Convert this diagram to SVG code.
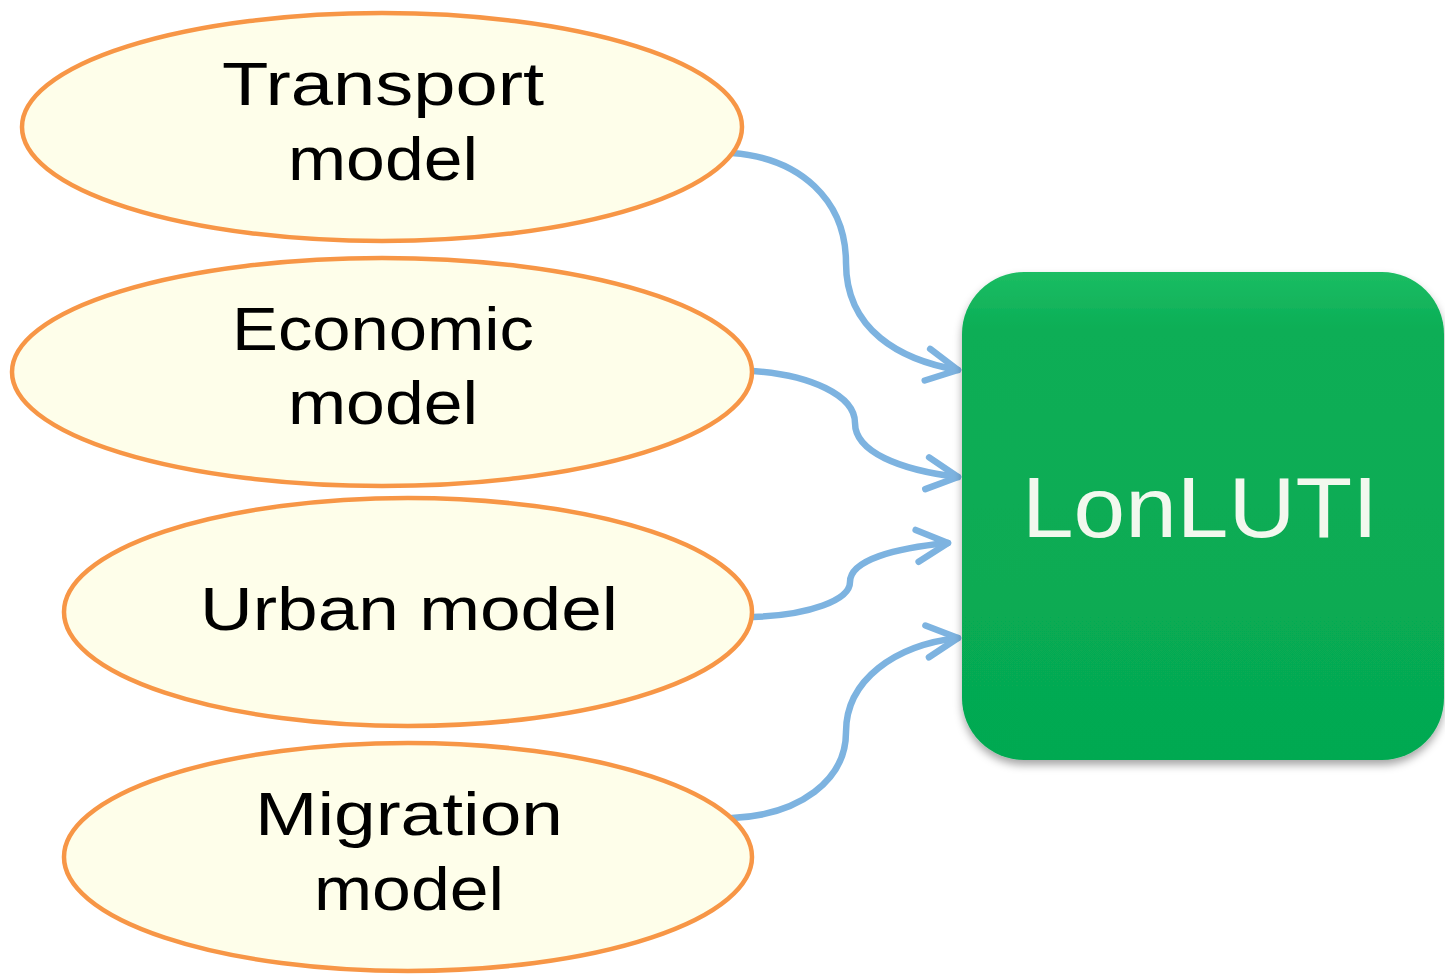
<svg xmlns="http://www.w3.org/2000/svg" width="1445" height="974" viewBox="0 0 1445 974">
<style>
.node ellipse{fill:#FEFEEA;stroke:#F79646;stroke-width:4.5}
.lbl{font-family:"Liberation Sans",Arial,sans-serif;font-size:62px;fill:#000;text-anchor:middle}
.conn{fill:none;stroke:#7DB3E0;stroke-width:6.5;stroke-linecap:round}
.big{font-family:"Liberation Sans",Arial,sans-serif;font-size:86px;fill:#F2F8EE;text-anchor:middle}
</style>
<defs>
<marker id="arr" markerUnits="userSpaceOnUse" markerWidth="50" markerHeight="50" refX="0" refY="0" viewBox="-40 -25 50 50" orient="auto" overflow="visible">
<path d="M-31,-16 L0,0 L-31,16" fill="none" stroke="#7DB3E0" stroke-width="6.5" stroke-linecap="round" stroke-linejoin="round"/>
</marker>
<linearGradient id="gg" x1="0" y1="0" x2="0" y2="1">
<stop offset="0" stop-color="#1CBD63"/>
<stop offset="0.12" stop-color="#0BAE56"/>
<stop offset="1" stop-color="#05A951"/>
</linearGradient>
<filter id="sh" x="-10%" y="-10%" width="125%" height="125%">
<feDropShadow dx="0" dy="5" stdDeviation="4" flood-color="#000" flood-opacity="0.35"/>
</filter>
</defs>
<g id="connectors">
<path class="conn" marker-end="url(#arr)" d="M732,153 C800,158 846,200 846,263 C846,330 900,360 958,370"/>
<path class="conn" marker-end="url(#arr)" d="M753,371 C810,375 855,395 855,423 C855,452 900,470 958,477"/>
<path class="conn" marker-end="url(#arr)" d="M753,617 C810,615 850,600 850,582 C850,560 895,548 948,543"/>
<path class="conn" marker-end="url(#arr)" d="M732,818 C800,815 846,780 846,732 C846,680 895,645 958,638"/>
</g>
<g id="transport" class="node">
<ellipse cx="382" cy="127" rx="360" ry="114"/>
<text class="lbl" x="383" y="105" textLength="322" lengthAdjust="spacingAndGlyphs">Transport</text>
<text class="lbl" x="383" y="180" textLength="190" lengthAdjust="spacingAndGlyphs">model</text>
</g>
<g id="economic" class="node">
<ellipse cx="382" cy="372" rx="370" ry="114"/>
<text class="lbl" x="383" y="350" textLength="302" lengthAdjust="spacingAndGlyphs">Economic</text>
<text class="lbl" x="383" y="424" textLength="190" lengthAdjust="spacingAndGlyphs">model</text>
</g>
<g id="urban" class="node">
<ellipse cx="408" cy="612" rx="344" ry="114"/>
<text class="lbl" x="409" y="630" textLength="418" lengthAdjust="spacingAndGlyphs">Urban model</text>
</g>
<g id="migration" class="node">
<ellipse cx="408" cy="857" rx="344" ry="114"/>
<text class="lbl" x="409" y="835" textLength="308" lengthAdjust="spacingAndGlyphs">Migration</text>
<text class="lbl" x="409" y="910" textLength="190" lengthAdjust="spacingAndGlyphs">model</text>
</g>
<g id="lonluti">
<rect x="962" y="272" width="482" height="488" rx="62" ry="62" fill="url(#gg)" filter="url(#sh)"/>
<text class="big" x="1200" y="537" textLength="356" lengthAdjust="spacingAndGlyphs">LonLUTI</text>
</g>
</svg>
